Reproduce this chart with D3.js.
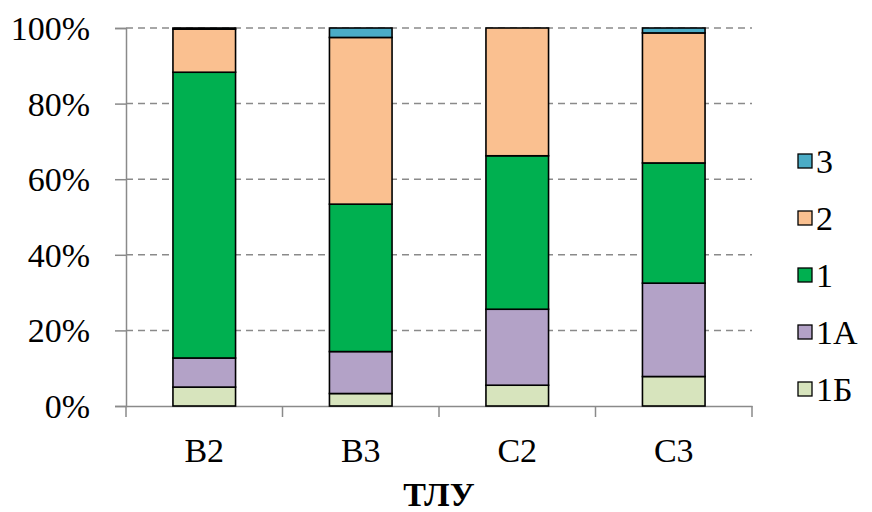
<!DOCTYPE html>
<html>
<head>
<meta charset="utf-8">
<script src="https://cdn.jsdelivr.net/npm/d3@7"></script>
<style>
  html, body { margin: 0; padding: 0; background: #fff; }
  svg { display: block; }
</style>
</head>
<body>
<svg id="chart" width="872" height="512"></svg>
<script>
const categories = ["В2", "В3", "С2", "С3"];
const seriesNames = ["1Б", "1А", "1", "2", "3"];
const s1B = [5.0, 3.3, 5.5, 7.8];
const s1A = [7.7, 11.1, 20.1, 24.7];
const s1  = [75.6, 39.0, 40.6, 31.8];
const s2  = [11.4, 44.1, 33.8, 34.4];
const s3  = [0.3, 2.5, 0.0, 1.3];
const colors = ["#D7E4BD", "#B3A2C7", "#00B050", "#FAC090", "#4BACC6"];
const yTicks = [0, 20, 40, 60, 80, 100];
const xTitle = "ТЛУ";

const FONT = "'Liberation Serif', 'Times New Roman', serif";

const seriesValues = [s1B, s1A, s1, s2, s3];
const rows = categories.map((c, i) => {
  const r = { cat: c };
  seriesNames.forEach((n, k) => r[n] = seriesValues[k][i]);
  return r;
});

const svg = d3.select("#chart");
const pLeft = 126, pRight = 752, pTop = 28, pBottom = 406;

const x = d3.scaleBand().domain(categories).range([pLeft, pRight]).paddingInner(0).paddingOuter(0);
const y = d3.scaleLinear().domain([0, 100]).range([pBottom, pTop]);

// gridlines
svg.append("g").selectAll("line").data(yTicks.filter(d => d > 0)).join("line")
  .attr("x1", pLeft).attr("x2", pRight)
  .attr("y1", d => y(d)).attr("y2", d => y(d))
  .attr("stroke", "#8a8a8a").attr("stroke-width", 1.5)
  .attr("stroke-dasharray", "7,5");

// y axis
const yAxis = d3.axisLeft(y).tickValues(yTicks).tickFormat(d => d + "%").tickSize(11).tickPadding(25);
const gy = svg.append("g").attr("transform", `translate(${pLeft},0)`).call(yAxis);
gy.attr("font-family", FONT).attr("font-size", 34);
gy.select(".domain").attr("stroke", "#8a8a8a").attr("stroke-width", 1.5);
gy.selectAll(".tick line").attr("stroke", "#8a8a8a").attr("stroke-width", 1.5);
gy.selectAll(".tick text").attr("fill", "#000").attr("dy", "0.34em");

// x axis
const xAxis = d3.axisBottom(x).tickSize(0).tickPadding(32);
const gx = svg.append("g").attr("transform", `translate(0,${pBottom})`).call(xAxis);
gx.attr("font-family", FONT).attr("font-size", 34);
gx.select(".domain").attr("stroke", "#8a8a8a").attr("stroke-width", 1.5);
gx.selectAll(".tick text").attr("fill", "#000");
// category separator ticks
const sep = [pLeft].concat(categories.map(c => x(c) + x.bandwidth()));
gx.append("g").selectAll("line").data(sep).join("line")
  .attr("x1", d => d).attr("x2", d => d).attr("y1", 0).attr("y2", 11)
  .attr("stroke", "#8a8a8a").attr("stroke-width", 1.5);

// bars
const stack = d3.stack().keys(seriesNames)(rows);
const bw = x.bandwidth() * 0.4;
svg.append("g").selectAll("g").data(stack).join("g")
  .attr("fill", (d, i) => colors[i])
  .selectAll("rect").data(d => d).join("rect")
  .attr("x", d => x(d.data.cat) + (x.bandwidth() - bw) / 2)
  .attr("width", bw)
  .attr("y", d => y(d[1]))
  .attr("height", d => Math.max(0, y(d[0]) - y(d[1])))
  .attr("stroke", "#000").attr("stroke-width", 1.6);

// x title
svg.append("text").attr("x", (pLeft + pRight) / 2).attr("y", 506)
  .attr("text-anchor", "middle").attr("font-family", FONT).attr("font-size", 34).attr("font-weight", "bold")
  .text(xTitle);

// legend
const legendOrder = seriesNames.map((n, i) => ({ name: n, color: colors[i] })).reverse();
const lg = svg.append("g").selectAll("g").data(legendOrder).join("g")
  .attr("transform", (d, i) => `translate(798,${161 + i * 57})`);
lg.append("rect").attr("x", 0).attr("y", -7).attr("width", 14).attr("height", 14)
  .attr("fill", d => d.color).attr("stroke", "#000").attr("stroke-width", 1.3);
lg.append("text").attr("x", 18).attr("y", 0).attr("dy", "0.34em")
  .attr("font-family", FONT).attr("font-size", 34).text(d => d.name);
</script>
</body>
</html>
